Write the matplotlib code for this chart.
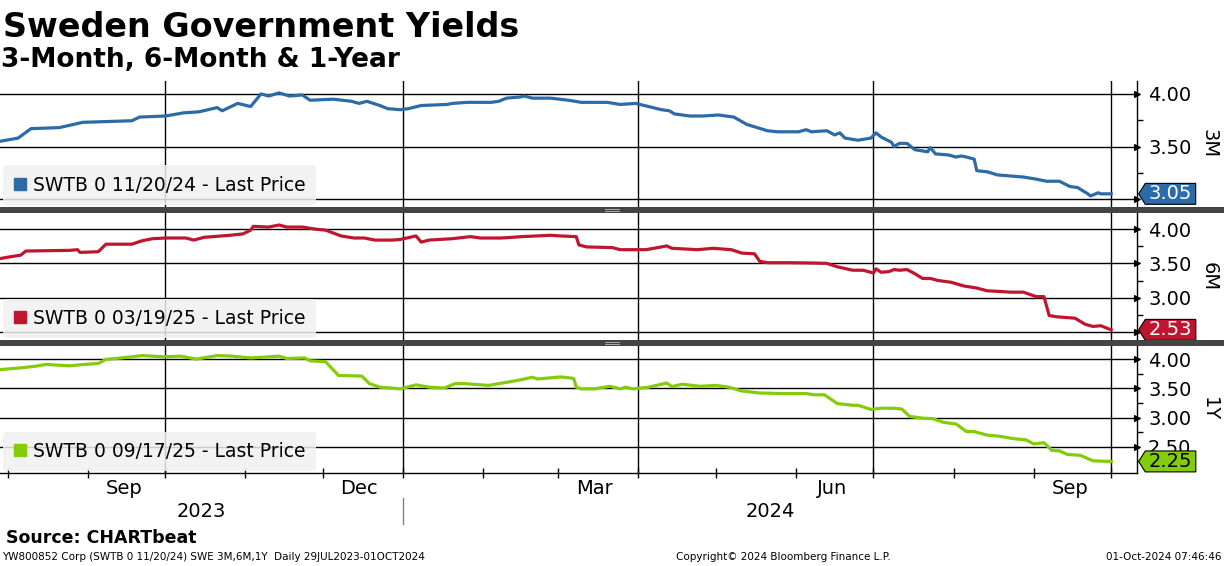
import matplotlib
matplotlib.use("Agg")
import matplotlib.pyplot as plt
import matplotlib.dates as mdates
import matplotlib.transforms as mtransforms
from matplotlib.lines import Line2D
from matplotlib.patches import Rectangle
from matplotlib.path import Path
import pandas as pd

# --- data ---
dates_3m = ["2023-07-29", "2023-08-05", "2023-08-10", "2023-08-21", "2023-08-30", "2023-09-18",
            "2023-09-21", "2023-10-01", "2023-10-08", "2023-10-14", "2023-10-21", "2023-10-23",
            "2023-10-29", "2023-11-03", "2023-11-07", "2023-11-10", "2023-11-14", "2023-11-18",
            "2023-11-23", "2023-11-26", "2023-12-05", "2023-12-12", "2023-12-15", "2023-12-18",
            "2023-12-23", "2023-12-26", "2023-12-31", "2024-01-03", "2024-01-08", "2024-01-18",
            "2024-01-20", "2024-01-26", "2024-02-04", "2024-02-07", "2024-02-10", "2024-02-15",
            "2024-02-17", "2024-02-20", "2024-02-27", "2024-03-05", "2024-03-10", "2024-03-20",
            "2024-03-25", "2024-03-31", "2024-04-10", "2024-04-13", "2024-04-15", "2024-04-21",
            "2024-04-26", "2024-05-02", "2024-05-08", "2024-05-13", "2024-05-21", "2024-05-25",
            "2024-06-02", "2024-06-05", "2024-06-07", "2024-06-13", "2024-06-16", "2024-06-18",
            "2024-06-20", "2024-06-25", "2024-06-30", "2024-07-02", "2024-07-04", "2024-07-08",
            "2024-07-09", "2024-07-11", "2024-07-14", "2024-07-17", "2024-07-22", "2024-07-23",
            "2024-07-25", "2024-07-30", "2024-08-02", "2024-08-04", "2024-08-06", "2024-08-09",
            "2024-08-10", "2024-08-14", "2024-08-18", "2024-08-23", "2024-08-28", "2024-09-02",
            "2024-09-06", "2024-09-11", "2024-09-15", "2024-09-18", "2024-09-22", "2024-09-23",
            "2024-09-26", "2024-09-27", "2024-10-01"]
values_3m = [3.55, 3.58, 3.67, 3.68, 3.73, 3.745,
             3.78, 3.79, 3.82, 3.83, 3.87, 3.84,
             3.91, 3.88, 4.00, 3.98, 4.01, 3.98,
             3.99, 3.94, 3.95, 3.93, 3.91, 3.93,
             3.89, 3.86, 3.85, 3.86, 3.89, 3.90,
             3.91, 3.92, 3.92, 3.93, 3.96, 3.97,
             3.98, 3.96, 3.96, 3.94, 3.92, 3.92,
             3.90, 3.91, 3.85, 3.84, 3.81, 3.79,
             3.79, 3.80, 3.78, 3.71, 3.65, 3.64,
             3.64, 3.66, 3.64, 3.65, 3.61, 3.63,
             3.58, 3.56, 3.58, 3.63, 3.59, 3.54,
             3.50, 3.53, 3.53, 3.47, 3.45, 3.49,
             3.43, 3.42, 3.40, 3.41, 3.40, 3.38,
             3.27, 3.26, 3.23, 3.22, 3.21, 3.19,
             3.17, 3.17, 3.12, 3.11, 3.05, 3.03,
             3.06, 3.05, 3.05]

dates_6m = ["2023-07-29", "2023-08-01", "2023-08-06", "2023-08-08", "2023-08-25", "2023-08-28",
            "2023-08-29", "2023-09-05", "2023-09-08", "2023-09-18", "2023-09-22", "2023-09-26",
            "2023-10-01", "2023-10-09", "2023-10-12", "2023-10-16", "2023-10-26", "2023-10-31",
            "2023-11-03", "2023-11-04", "2023-11-10", "2023-11-14", "2023-11-17", "2023-11-23",
            "2023-11-28", "2023-12-02", "2023-12-08", "2023-12-13", "2023-12-17", "2023-12-21",
            "2023-12-28", "2023-12-31", "2024-01-06", "2024-01-08", "2024-01-11", "2024-01-20",
            "2024-01-27", "2024-01-31", "2024-02-08", "2024-02-16", "2024-02-27", "2024-03-02",
            "2024-03-08", "2024-03-09", "2024-03-12", "2024-03-22", "2024-03-25", "2024-04-04",
            "2024-04-10", "2024-04-12", "2024-04-14", "2024-04-24", "2024-04-30", "2024-05-07",
            "2024-05-11", "2024-05-16", "2024-05-18", "2024-05-21", "2024-05-29", "2024-06-08",
            "2024-06-13", "2024-06-17", "2024-06-23", "2024-06-27", "2024-07-01", "2024-07-02",
            "2024-07-04", "2024-07-07", "2024-07-09", "2024-07-11", "2024-07-14", "2024-07-17",
            "2024-07-20", "2024-07-23", "2024-07-26", "2024-07-31", "2024-08-05", "2024-08-10",
            "2024-08-14", "2024-08-19", "2024-08-23", "2024-08-28", "2024-09-02", "2024-09-05",
            "2024-09-07", "2024-09-10", "2024-09-17", "2024-09-21", "2024-09-24", "2024-09-27",
            "2024-10-01"]
values_6m = [3.57, 3.59, 3.62, 3.68, 3.69, 3.70,
             3.66, 3.67, 3.78, 3.78, 3.83, 3.86,
             3.87, 3.87, 3.84, 3.88, 3.91, 3.93,
             3.985, 4.04, 4.03, 4.06, 4.03, 4.03,
             4.00, 3.985, 3.90, 3.87, 3.87, 3.84,
             3.84, 3.85, 3.90, 3.81, 3.84, 3.86,
             3.89, 3.87, 3.87, 3.89, 3.91, 3.90,
             3.89, 3.77, 3.74, 3.73, 3.70, 3.70,
             3.74, 3.755, 3.72, 3.70, 3.72, 3.70,
             3.65, 3.64, 3.53, 3.51, 3.51, 3.505,
             3.50, 3.45, 3.40, 3.40, 3.36, 3.42,
             3.37, 3.38, 3.41, 3.40, 3.41, 3.35,
             3.28, 3.28, 3.25, 3.225, 3.17, 3.14,
             3.10, 3.09, 3.08, 3.08, 3.015, 3.015,
             2.74, 2.72, 2.70, 2.61, 2.58, 2.59,
             2.53]

dates_1y = ["2023-07-29", "2023-08-06", "2023-08-12", "2023-08-16", "2023-08-19", "2023-08-25",
            "2023-08-31", "2023-09-05", "2023-09-08", "2023-09-14", "2023-09-22", "2023-09-30",
            "2023-10-07", "2023-10-13", "2023-10-21", "2023-10-27", "2023-11-03", "2023-11-14",
            "2023-11-17", "2023-11-24", "2023-11-26", "2023-12-02", "2023-12-07", "2023-12-16",
            "2023-12-19", "2023-12-23", "2023-12-26", "2023-12-31", "2024-01-06", "2024-01-11",
            "2024-01-17", "2024-01-21", "2024-01-25", "2024-02-03", "2024-02-11", "2024-02-16",
            "2024-02-20", "2024-02-22", "2024-03-02", "2024-03-07", "2024-03-08", "2024-03-10",
            "2024-03-15", "2024-03-21", "2024-03-25", "2024-03-27", "2024-03-30", "2024-04-05",
            "2024-04-08", "2024-04-12", "2024-04-14", "2024-04-18", "2024-04-25", "2024-05-01",
            "2024-05-06", "2024-05-11", "2024-05-18", "2024-05-27", "2024-06-05", "2024-06-08",
            "2024-06-12", "2024-06-17", "2024-06-23", "2024-06-25", "2024-06-30", "2024-07-04",
            "2024-07-09", "2024-07-12", "2024-07-15", "2024-07-20", "2024-07-24", "2024-07-28",
            "2024-08-02", "2024-08-06", "2024-08-09", "2024-08-14", "2024-08-19", "2024-08-24",
            "2024-08-29", "2024-09-01", "2024-09-05", "2024-09-08", "2024-09-11", "2024-09-14",
            "2024-09-19", "2024-09-24", "2024-10-01"]
values_1y = [3.82, 3.85, 3.88, 3.91, 3.90, 3.885,
             3.91, 3.925, 3.995, 4.02, 4.06, 4.04,
             4.05, 4.00, 4.06, 4.05, 4.02, 4.05,
             4.01, 4.02, 3.97, 3.955, 3.72, 3.71,
             3.58, 3.52, 3.51, 3.49, 3.56, 3.52,
             3.505, 3.58, 3.58, 3.55, 3.61, 3.65,
             3.69, 3.66, 3.695, 3.67, 3.52, 3.49,
             3.49, 3.535, 3.49, 3.52, 3.49, 3.52,
             3.55, 3.59, 3.53, 3.57, 3.535, 3.55,
             3.52, 3.455, 3.42, 3.41, 3.41, 3.39,
             3.39, 3.24, 3.21, 3.21, 3.14, 3.16,
             3.16, 3.145, 3.02, 2.99, 2.98, 2.92,
             2.89, 2.76, 2.76, 2.70, 2.68, 2.64,
             2.62, 2.55, 2.57, 2.44, 2.43, 2.37,
             2.355, 2.26, 2.25]

series_names = ["SWTB 0 11/20/24 - Last Price", "SWTB 0 03/19/25 - Last Price", "SWTB 0 09/17/25 - Last Price"]
panel_titles = ["3M", "6M", "1Y"]
month_labels = ["Sep", "Dec", "Mar", "Jun", "Sep"]
month_label_dates = ["2023-09-15", "2023-12-15", "2024-03-15", "2024-06-15", "2024-09-15"]
quarter_dates = ["2023-10-01", "2024-01-01", "2024-04-01", "2024-07-01", "2024-10-01"]

W, H = 1224, 566
x_start, x_end = pd.Timestamp("2023-07-29"), pd.Timestamp("2024-10-11")


def tag_shape(x0, y0, width, height, mutation_size):
    # box with a pointed left side, like the Bloomberg last-value tags
    hp, vp = 0.18 * mutation_size, 0.05 * mutation_size
    x0, y0 = x0 - hp, y0 - vp
    x1, y1 = x0 + width + 2 * hp, y0 + height + 2 * vp
    tip = (y1 - y0) * 0.32
    ym = (y0 + y1) / 2
    return Path([(x0 - tip, ym), (x0, y0), (x1, y0), (x1, y1), (x0, y1), (x0 - tip, ym)], closed=True)


fig = plt.figure(figsize=(W / 100, H / 100), dpi=100)
plt.rcParams["font.family"] = ["DejaVu Sans"]

# ticks whose labels sit under the last-value tag in the original
hidden_labels = [3.0, 2.5, None]

panels = [
    (dates_3m, values_3m, "#2c6aa8", "white", (81, 207), (2.925, 4.123), [3.0, 3.5, 4.0]),
    (dates_6m, values_6m, "#c0152f", "white", (213, 340), (2.382, 4.235), [2.5, 3.0, 3.5, 4.0]),
    (dates_1y, values_1y, "#84cc0a", "black", (346, 473), (2.052, 4.224), [2.5, 3.0, 3.5, 4.0]),
]

axes = []
for i, (d, v, col, tcol, (top, bot), ylim, yt) in enumerate(panels):
    ax = fig.add_axes([0, 1 - bot / H, 1137 / W, (bot - top) / H])
    axes.append(ax)
    ax.plot(pd.to_datetime(d), v, color=col, lw=2.3, solid_joinstyle="round", zorder=3)

    for s in ["top", "left"]:
        ax.spines[s].set_visible(False)
    if i < 2:
        ax.spines["bottom"].set_visible(False)
    ax.spines["right"].set_linewidth(1.0)

    # right value axis
    ax.yaxis.tick_right()
    ax.set_yticks(yt)
    ax.set_yticklabels(["" if t == hidden_labels[i] else f"{t:.2f}" for t in yt])
    minor = [t + 0.25 for t in yt] + [yt[0] - 0.25]
    ax.set_yticks([m for m in minor if ylim[0] < m < ylim[1]], minor=True)
    ax.set_xlim(x_start, x_end)
    ax.set_ylim(*ylim)
    ax.tick_params(axis="y", which="major", labelsize=14, length=3, pad=5)
    ax.tick_params(axis="y", which="minor", length=4, width=1, direction="out")
    for t in ax.yaxis.get_major_ticks():
        t.tick2line.set_marker(">")
        t.tick2line.set_markersize(5)
        t.tick2line.set_markerfacecolor("black")
    ax.yaxis.grid(True, which="major", color="black", lw=1.0)
    for q in quarter_dates:
        ax.axvline(pd.Timestamp(q), color="black", lw=1.0, zorder=1)

    ax.xaxis.set_minor_locator(mdates.MonthLocator())
    if i < 2:
        ax.tick_params(axis="x", which="both", bottom=False, labelbottom=False)

    # legend box
    h = Line2D([], [], marker="s", linestyle="none", color=col, markersize=8)
    leg = ax.legend([h], [series_names[i]], loc="lower left", bbox_to_anchor=(0.001, 0.0),
                    borderaxespad=0.1, fontsize=13.5, handlelength=0.7, handletextpad=0.35,
                    borderpad=0.55, frameon=True, fancybox=True, framealpha=0.85,
                    facecolor="#f0f0f0", edgecolor="#f0f0f0")
    leg.get_frame().set_linewidth(0)

    # last value tag
    blend = mtransforms.blended_transform_factory(ax.transAxes, ax.transData)
    ax.annotate(f"{v[-1]:.2f}", xy=(1.0, v[-1]), xycoords=blend, xytext=(8.5, 0),
                textcoords="offset points", ha="left", va="center", fontsize=14, color=tcol,
                annotation_clip=False, zorder=10,
                bbox=dict(boxstyle=tag_shape, facecolor=col, edgecolor="black", lw=0.8))

    ax.text(1209 / 1137, 0.5, panel_titles[i], transform=ax.transAxes, rotation=270,
            ha="center", va="center", fontsize=14)

# bottom date axis
ax3 = axes[2]
ax3.set_xticks(pd.to_datetime(month_label_dates))
ax3.set_xticklabels(month_labels)
ax3.set_xlim(x_start, x_end)
ax3.tick_params(axis="x", which="major", length=0, pad=4, labelsize=14)
ax3.tick_params(axis="x", which="minor", length=7, width=1, direction="inout")
ax3.spines["bottom"].set_linewidth(1.0)

jan1 = pd.Timestamp("2024-01-01")
xb = mtransforms.blended_transform_factory(ax3.transData, ax3.transAxes)
ax3.text(x_start + (jan1 - x_start) / 2, -0.30, "2023", transform=xb, ha="center", va="center", fontsize=14)
ax3.text(jan1 + (x_end - jan1) / 2, -0.30, "2024", transform=xb, ha="center", va="center", fontsize=14)
ax3.plot([jan1, jan1], [-0.2, -0.4], transform=xb, color="#808080", lw=1, clip_on=False)

# panel separators
for y0 in (207, 340):
    fig.add_artist(Rectangle((0, 1 - (y0 + 6) / H), 1, 6 / H, transform=fig.transFigure,
                             facecolor="#444444", edgecolor="none", zorder=5))
    for dy in (2.2, 3.8):
        fig.add_artist(Line2D([605 / W, 619 / W], [1 - (y0 + dy) / H] * 2, transform=fig.transFigure,
                              color="#bbbbbb", lw=0.6, zorder=6))

# titles and footer
fig.text(3 / W, 1 - 37 / H, "Sweden Government Yields", fontsize=24, fontweight="bold", va="baseline")
fig.text(1 / W, 1 - 67 / H, "3-Month, 6-Month & 1-Year", fontsize=19, fontweight="bold", va="baseline")
fig.text(6 / W, 1 - 543 / H, "Source: CHARTbeat", fontsize=12.5, fontweight="bold", va="baseline")
fig.text(2 / W, 1 - 560 / H, "YW800852 Corp (SWTB 0 11/20/24) SWE 3M,6M,1Y  Daily 29JUL2023-01OCT2024",
         fontsize=7.5, va="baseline")
fig.text(783 / W, 1 - 560 / H, "Copyright\u00a9 2024 Bloomberg Finance L.P.", fontsize=7.5,
         va="baseline", ha="center")
fig.text(1222 / W, 1 - 560 / H, "01-Oct-2024 07:46:46", fontsize=7.5, va="baseline", ha="right")

fig.savefig("out.png", dpi=100)
